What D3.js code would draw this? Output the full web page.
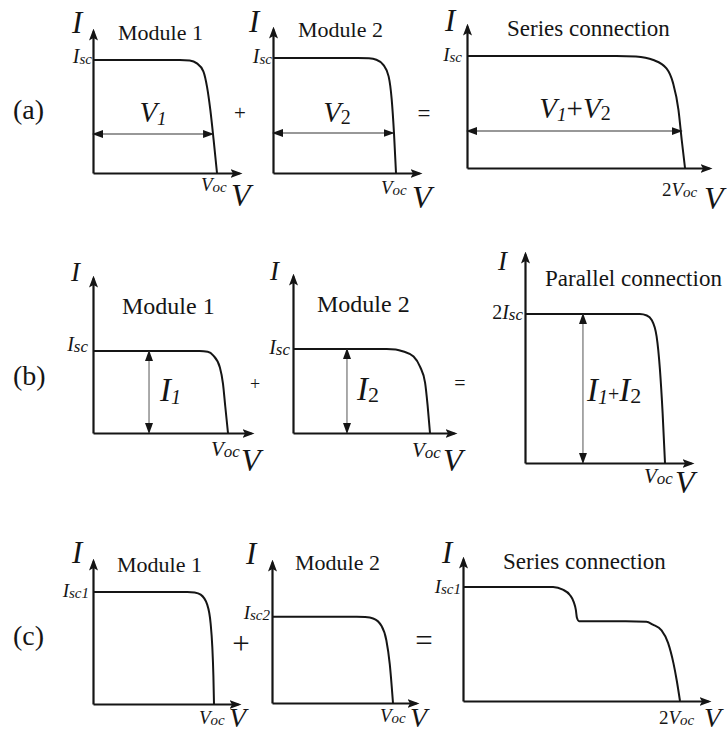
<!DOCTYPE html>
<html>
<head>
<meta charset="utf-8">
<script src="https://cdn.jsdelivr.net/npm/d3@7/dist/d3.min.js"></script>
<style>
  body { margin: 0; background: #fff; }
  svg { display: block; }
  text { font-family: "Liberation Serif", "Times New Roman", serif; fill: #151515; }
</style>
</head>
<body>
<svg id="chart" width="727" height="733"></svg>
<script>
// ---- I–V curves: V in units of Voc, I in units of Isc (Isc1 for row c) ----
// (a) series connection
const moduleA1V = [0, 0.70, 0.78, 0.838, 0.89, 0.92, 0.946, 0.973, 1.0];
const moduleA1I = [1, 1, 0.995, 0.97, 0.90, 0.76, 0.56, 0.29, 0];
const moduleA2V = [0, 0.69, 0.78, 0.84, 0.897, 0.94, 0.965, 0.984, 1.0];
const moduleA2I = [1, 1, 0.997, 0.985, 0.94, 0.84, 0.64, 0.34, 0];
const seriesAV  = [0, 1.37, 1.55, 1.71, 1.83, 1.89, 1.94, 1.97, 2.0];
const seriesAI  = [1, 1, 0.995, 0.964, 0.89, 0.76, 0.52, 0.25, 0];
// (b) parallel connection
const moduleB1V  = [0, 0.79, 0.85, 0.89, 0.94, 0.963, 0.98, 1.0];
const moduleB1I  = [1, 1, 0.99, 0.947, 0.80, 0.60, 0.32, 0];
const moduleB2V  = [0, 0.684, 0.75, 0.806, 0.88, 0.927, 0.964, 0.983, 1.0];
const moduleB2I  = [1, 1, 0.995, 0.97, 0.91, 0.79, 0.60, 0.32, 0];
const parallelBV = [0, 0.82, 0.87, 0.905, 0.94, 0.964, 0.983, 1.0];
const parallelBI = [2, 2, 1.98, 1.92, 1.70, 1.25, 0.67, 0];
// (c) mismatched modules in series
const moduleC1V = [0, 0.78, 0.84, 0.89, 0.944, 0.972, 0.986, 0.995, 1.0];
const moduleC1I = [1, 1, 0.995, 0.976, 0.887, 0.72, 0.51, 0.25, 0];
const moduleC2V = [0, 0.70, 0.77, 0.836, 0.904, 0.945, 0.973, 1.0];
const moduleC2I = [0.77, 0.77, 0.767, 0.755, 0.69, 0.56, 0.35, 0];
const seriesCV  = [0, 0.83, 0.92, 0.985, 1.02, 1.04, 1.05, 1.07, 1.50, 1.69, 1.75, 1.83, 1.89, 1.94, 1.97, 2.0];
const seriesCI  = [1, 1, 0.977, 0.93, 0.87, 0.80, 0.73, 0.70, 0.70, 0.695, 0.67, 0.62, 0.51, 0.33, 0.18, 0];

// dimension arrows: (a) horizontal at current level, (b) vertical at voltage
const dimLevelA = [0.345, 0.348, 0.33];
const dimEndA   = [0.968, 0.98, 1.97];
const dimPosB   = [0.415, 0.394, 0.414];
const dimTopB   = [1, 1, 2];

// ---- panel geometry ----
const panels = {
  a1: { ox: 93,  oy: 173, vocX: 217, iscY: 60,  vUnit: 1, iUnit: 1, xTip: 239, yTip: 31 },
  a2: { ox: 273, oy: 173, vocX: 396, iscY: 58,  vUnit: 1, iUnit: 1, xTip: 419, yTip: 29 },
  a3: { ox: 467, oy: 168, vocX: 685, iscY: 56,  vUnit: 2, iUnit: 1, xTip: 709, yTip: 26 },
  b1: { ox: 93,  oy: 433, vocX: 228, iscY: 351, vUnit: 1, iUnit: 1, xTip: 251, yTip: 278 },
  b2: { ox: 293, oy: 433, vocX: 430, iscY: 349, vUnit: 1, iUnit: 1, xTip: 454, yTip: 276 },
  b3: { ox: 525, oy: 463, vocX: 665, iscY: 314, vUnit: 1, iUnit: 2, xTip: 691, yTip: 254 },
  c1: { ox: 93,  oy: 704, vocX: 214, iscY: 592, vUnit: 1, iUnit: 1, xTip: 238, yTip: 561 },
  c2: { ox: 272, oy: 703, vocX: 393, iscY: 591, vUnit: 1, iUnit: 1, xTip: 416, yTip: 562 },
  c3: { ox: 463, oy: 701, vocX: 680, iscY: 587, vUnit: 2, iUnit: 1, xTip: 708, yTip: 559 }
};

const curves = {
  a1: [moduleA1V, moduleA1I], a2: [moduleA2V, moduleA2I], a3: [seriesAV, seriesAI],
  b1: [moduleB1V, moduleB1I], b2: [moduleB2V, moduleB2I], b3: [parallelBV, parallelBI],
  c1: [moduleC1V, moduleC1I], c2: [moduleC2V, moduleC2I], c3: [seriesCV, seriesCI]
};

const ink = "#151515";
const svg = d3.select("#chart");
const defs = svg.append("defs");

defs.append("marker")
  .attr("id", "axisHead").attr("markerUnits", "userSpaceOnUse")
  .attr("viewBox", "0 0 12 9").attr("markerWidth", 12).attr("markerHeight", 9)
  .attr("refX", 9).attr("refY", 4.5).attr("orient", "auto")
  .append("path").attr("d", "M0,0 L12,4.5 L0,9 L2.5,4.5 Z").attr("fill", ink);

defs.append("marker")
  .attr("id", "dimHead").attr("markerUnits", "userSpaceOnUse")
  .attr("viewBox", "0 0 11 8").attr("markerWidth", 11).attr("markerHeight", 8)
  .attr("refX", 10).attr("refY", 4).attr("orient", "auto-start-reverse")
  .append("path").attr("d", "M0,0 L11,4 L0,8 Z").attr("fill", ink);

const scales = {};
Object.entries(panels).forEach(([key, p]) => {
  const x = d3.scaleLinear().domain([0, p.vUnit]).range([p.ox, p.vocX]);
  const y = d3.scaleLinear().domain([0, p.iUnit]).range([p.oy, p.iscY]);
  scales[key] = { x, y };
  const g = svg.append("g").attr("class", "panel-" + key);

  // axes: bare domain lines ending in arrowheads
  const xa = d3.scaleLinear().domain([0, x.invert(p.xTip)]).range([p.ox, p.xTip]);
  const ya = d3.scaleLinear().domain([0, y.invert(p.yTip)]).range([p.oy, p.yTip]);
  g.append("g").attr("transform", `translate(0,${p.oy})`)
    .call(d3.axisBottom(xa).tickValues([]).tickSizeOuter(0))
    .call(s => s.select(".domain").attr("stroke", ink).attr("stroke-width", 2.2).attr("marker-end", "url(#axisHead)"));
  g.append("g").attr("transform", `translate(${p.ox},0)`)
    .call(d3.axisLeft(ya).tickValues([]).tickSizeOuter(0))
    .call(s => s.select(".domain").attr("stroke", ink).attr("stroke-width", 2.2).attr("marker-end", "url(#axisHead)"));

  // I–V curve
  const [vs, is] = curves[key];
  const pts = vs.map((v, i) => [v, is[i]]);
  g.append("path")
    .datum(pts)
    .attr("fill", "none").attr("stroke", ink).attr("stroke-width", 2)
    .attr("stroke-linejoin", "round")
    .attr("d", d3.line().x(d => x(d[0])).y(d => y(d[1])).curve(d3.curveMonotoneX));
});

// horizontal voltage arrows, row (a)
["a1", "a2", "a3"].forEach((k, i) => {
  const { x, y } = scales[k];
  svg.append("line")
    .attr("x1", x(0)).attr("x2", x(dimEndA[i]))
    .attr("y1", y(dimLevelA[i])).attr("y2", y(dimLevelA[i]))
    .attr("stroke", "#333").attr("stroke-width", 1.1)
    .attr("marker-start", "url(#dimHead)").attr("marker-end", "url(#dimHead)");
});
// vertical current arrows, row (b)
["b1", "b2", "b3"].forEach((k, i) => {
  const { x, y } = scales[k];
  svg.append("line")
    .attr("x1", x(dimPosB[i])).attr("x2", x(dimPosB[i]))
    .attr("y1", y(0)).attr("y2", y(dimTopB[i]))
    .attr("stroke", "#555").attr("stroke-width", 1)
    .attr("marker-start", "url(#dimHead)").attr("marker-end", "url(#dimHead)");
});

// ---- text ----
// parts: [text, size, italic, dy]
function label(x, y, parts, anchor = "start") {
  const t = svg.append("text").attr("x", x).attr("y", y).attr("text-anchor", anchor);
  let shift = 0;
  parts.forEach(([s, size, it, dy = 0]) => {
    t.append("tspan").text(s)
      .attr("font-size", size)
      .attr("font-style", it ? "italic" : "normal")
      .attr("dy", dy - shift);
    shift = dy;
  });
  return t;
}

const Isc  = (a, b) => [["I", a, true], ["sc", b, true, 1]];
const Voc  = (a, b) => [["V", a, true], ["oc", b, true, 1]];

// row (a)
label(13, 119, [["(a)", 28]]);
label(72, 33, [["I", 31, true]]);
label(118, 40, [["Module 1", 22]]);
label(92, 63, Isc(20, 15), "end");
label(201, 191, Voc(19, 15));
label(231, 206, [["V", 32, true]]);
label(153, 122, [["V", 29, true], ["1", 19, true, 3]], "middle");
label(240, 120, [["+", 21]], "middle");

label(249, 32, [["I", 31, true]]);
label(298, 37, [["Module 2", 22]]);
label(272, 63, Isc(20, 15), "end");
label(381, 194, Voc(19, 15));
label(412, 208, [["V", 32, true]]);
label(337, 122, [["V", 29, true], ["2", 20, false, 2]], "middle");
label(424, 121, [["=", 23]], "middle");

label(445, 31, [["I", 31, true]]);
label(507, 36, [["Series connection", 23]]);
label(462, 61, Isc(19, 15), "end");
label(575, 118, [["V", 29, true], ["1", 19, true, 3], ["+", 29, false, 0], ["V", 29, true], ["2", 20, false, 2]], "middle");
label(662, 196, [["2", 19], ["V", 19, true], ["oc", 15, true, 1]]);
label(704, 209, [["V", 32, true]]);

// row (b)
label(13, 385, [["(b)", 28]]);
label(71, 281, [["I", 27, true]]);
label(122, 314, [["Module 1", 24]]);
label(88, 351, Isc(20, 17), "end");
label(160, 401, [["I", 33, true], ["1", 20, true, 3]]);
label(211, 456, Voc(21, 17));
label(241, 471, [["V", 32, true]]);
label(255, 390, [["+", 18]], "middle");

label(270, 280, [["I", 27, true]]);
label(317, 312, [["Module 2", 24]]);
label(290, 354, Isc(20, 17), "end");
label(357, 400, [["I", 33, true], ["2", 22, false, 2]]);
label(412, 457, Voc(21, 17));
label(443, 471, [["V", 32, true]]);
label(460, 390, [["=", 20]], "middle");

label(498, 270, [["I", 27, true]]);
label(545, 286, [["Parallel connection", 23]]);
label(523, 319, [["2", 20], ["I", 20, true], ["sc", 17, true, 1]], "end");
label(587, 401, [["I", 33, true], ["1", 20, true, 3], ["+", 20, false, 0], ["I", 33, true], ["2", 22, false, 2]]);
label(644, 483, Voc(21, 17));
label(675, 493, [["V", 32, true]]);

// row (c)
label(13, 645, [["(c)", 28]]);
label(72, 563, [["I", 31, true]]);
label(117, 572, [["Module 1", 22]]);
label(89, 597, [["I", 19, true], ["sc1", 15, true, 1]], "end");
label(199, 724, Voc(19, 15));
label(229, 727, [["V", 28, true]]);
label(241, 654, [["+", 31]], "middle");

label(246, 564, [["I", 31, true]]);
label(295, 570, [["Module 2", 22]]);
label(270, 619, [["I", 19, true], ["sc2", 15, true, 1]], "end");
label(380, 722, Voc(19, 15));
label(410, 727, [["V", 28, true]]);
label(424, 651, [["=", 31]], "middle");

label(442, 563, [["I", 31, true]]);
label(503, 569, [["Series connection", 23]]);
label(461, 593, [["I", 19, true], ["sc1", 15, true, 1]], "end");
label(659, 724, [["2", 19], ["V", 19, true], ["oc", 15, true, 1]]);
label(704, 727, [["V", 28, true]]);
</script>
</body>
</html>
